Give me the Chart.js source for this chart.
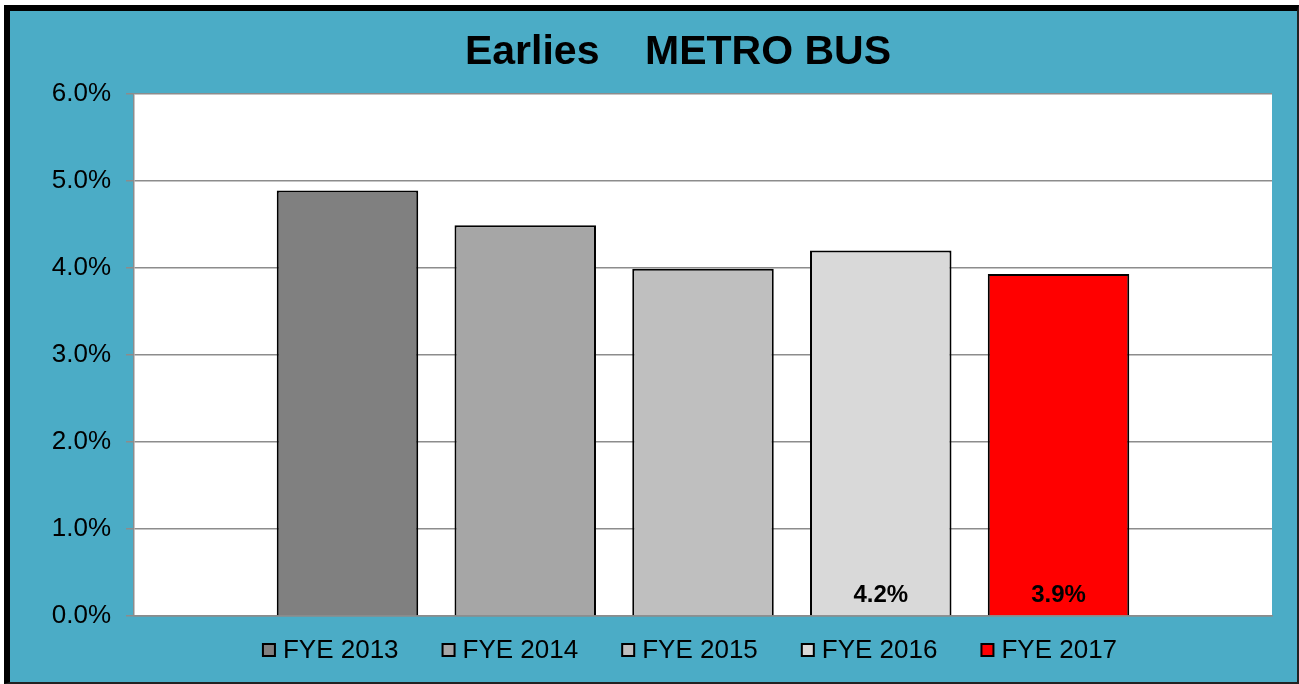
<!DOCTYPE html>
<html>
<head>
<meta charset="utf-8">
<script src="https://cdn.jsdelivr.net/npm/chart.js@4/dist/chart.umd.min.js"></script>
<style>
  html, body { margin: 0; padding: 0; background: #fff; }
  #frame {
    position: absolute; left: 4px; top: 5px;
    width: 1295px; height: 679px; box-sizing: border-box;
    background: #4BACC6;
    border-left: 6px solid #000; border-top: 6px solid #000;
    border-right: 2px solid #222; border-bottom: 2px solid #222;
  }
  #chart { display: block; }
</style>
</head>
<body>
<div id="frame"><canvas id="chart" width="1287" height="671"></canvas></div>
<script>
/* global Chart */
(function () {
    'use strict';

    // Chart data.
    var chartTitle = 'Earlies    METRO BUS';
    var seriesLabels = ['FYE 2013', 'FYE 2014', 'FYE 2015', 'FYE 2016', 'FYE 2017'];
    var seriesValues = [4.89, 4.49, 3.99, 4.2, 3.93];
    var seriesColors = ['#808080', '#A6A6A6', '#BFBFBF', '#D9D9D9', '#FF0000'];
    var labelShown = [false, false, false, true, true];
    var yTicks = [0, 1, 2, 3, 4, 5, 6];

    var FONT = '"Liberation Sans", Arial, sans-serif';

    var datasets = seriesLabels.map(function (lbl, i) {
        return {
            label: lbl,
            data: [seriesValues[i]],
            backgroundColor: seriesColors[i],
            borderColor: '#000',
            borderWidth: 2,
            categoryPercentage: 0.781,
            barPercentage: 0.796
        };
    });

    // White plot area, title, bar labels and the legend.
    var decor = {
        id: 'decor',
        beforeDraw: function (chart) {
            var a = chart.chartArea, ctx = chart.ctx;
            ctx.save();
            ctx.fillStyle = '#fff';
            ctx.fillRect(a.left, a.top, a.right - a.left, a.bottom - a.top);
            ctx.restore();
        },
        afterDraw: function (chart) {
            var ctx = chart.ctx, a = chart.chartArea;
            ctx.save();

            // Title
            ctx.fillStyle = '#000';
            ctx.font = 'bold 41px ' + FONT;
            ctx.textAlign = 'center';
            ctx.textBaseline = 'middle';
            ctx.fillText(chartTitle, 668, 42);

            // Value labels inside bars
            ctx.font = 'bold 24px ' + FONT;
            chart.data.datasets.forEach(function (ds, i) {
                if (!labelShown[i]) return;
                var bar = chart.getDatasetMeta(i).data[0];
                ctx.fillText(ds.data[0].toFixed(1) + '%', bar.x, a.bottom - 21);
            });

            // Legend
            ctx.font = '26px ' + FONT;
            ctx.textAlign = 'left';
            var box = 12, gapBox = 8, gapItem = 44;
            var widths = chart.data.datasets.map(function (ds) {
                return box + gapBox + ctx.measureText(ds.label).width;
            });
            var total = widths.reduce(function (s, w) { return s + w; }, 0) + gapItem * (widths.length - 1);
            var x = 680 - total / 2, y = 639;
            chart.data.datasets.forEach(function (ds, i) {
                ctx.fillStyle = ds.backgroundColor;
                ctx.fillRect(x, y - box / 2, box, box);
                ctx.strokeStyle = '#000';
                ctx.lineWidth = 2;
                ctx.strokeRect(x, y - box / 2, box, box);
                ctx.fillStyle = '#000';
                ctx.fillText(ds.label, x + box + gapBox, y + 1);
                x += widths[i] + gapItem;
            });
            ctx.restore();
        }
    };

    new Chart(document.getElementById('chart'), {
        type: 'bar',
        data: { labels: [''], datasets: datasets },
        options: {
            responsive: false,
            animation: false,
            layout: { padding: { left: 0, right: 25, top: 83, bottom: 66 } },
            plugins: {
                legend: { display: false },
                title: { display: false },
                tooltip: { enabled: false }
            },
            scales: {
                x: {
                    ticks: { display: false },
                    grid: { display: false },
                    border: { color: '#8c8c8c', width: 1.5 },
                    afterFit: function (s) { s.height = 0; }
                },
                y: {
                    min: 0,
                    max: 6,
                    afterBuildTicks: function (s) {
                        s.ticks = yTicks.map(function (v) { return { value: v }; });
                    },
                    ticks: {
                        color: '#000',
                        padding: 15,
                        font: { family: FONT, size: 26 },
                        callback: function (v) { return v.toFixed(1) + '%'; }
                    },
                    grid: { color: '#8c8c8c', lineWidth: 1.5, tickLength: 8 },
                    border: { color: '#8c8c8c', width: 1.5 },
                    afterFit: function (s) { s.width = 124; }
                }
            }
        },
        plugins: [decor]
    });
})();
</script>
</body>
</html>
